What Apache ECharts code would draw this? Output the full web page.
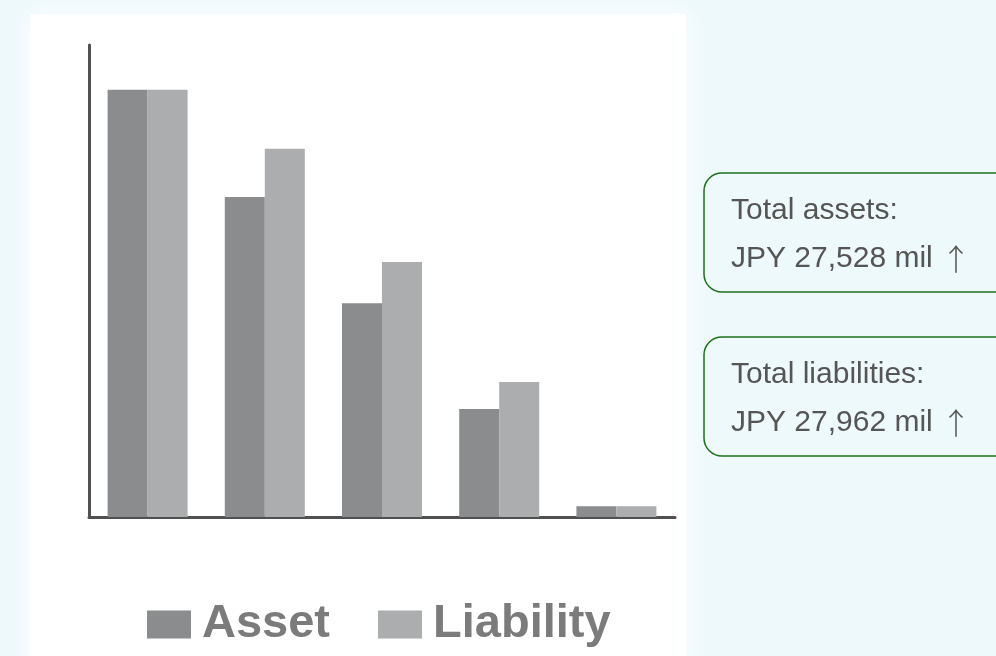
<!DOCTYPE html>
<html>
<head>
<meta charset="utf-8">
<script src="https://cdn.jsdelivr.net/npm/echarts@6/dist/echarts.min.js"></script>
<style>
  html, body { margin: 0; padding: 0; background: #eef9fc; }
  #chart { width: 996px; height: 656px; }
</style>
</head>
<body>
<div id="chart"></div>
<script>
// categories have no visible labels in the source picture
const categories = ['A', 'B', 'C', 'D', 'E']
const assetValues = [90.5, 67.8, 45.3, 22.9, 2.3]
const liabilityValues = [90.5, 78.0, 54.0, 28.6, 2.3]
const seriesNames = ['Asset', 'Liability']
const boxLines = [
  ['Total assets:', 'JPY 27,528 mil {arr|\u2191}'],
  ['Total liabilities:', 'JPY 27,962 mil {arr|\u2191}']
]

const chart = echarts.init(document.getElementById('chart'))

// summary boxes on the right
const boxTops = [173, 337]
let boxGraphics = []
boxLines.forEach((lines, i) => {
  let top = boxTops[i]
  boxGraphics.push({
    type: 'rect',
    shape: { x: 704, y: top, width: 310, height: 119, r: 18 },
    style: { fill: 'rgba(0,0,0,0)', stroke: '#1c701c', lineWidth: 1.5 },
    z: 10
  })
  lines.forEach((txt, j) => {
    boxGraphics.push({
      type: 'text',
      x: 731,
      y: top + 38 + j * 48,
      style: {
        text: txt,
        fill: '#555',
        font: '30px "Liberation Sans", Arial, sans-serif',
        textVerticalAlign: 'middle',
        rich: {
          arr: {
            fontFamily: '"Noto Sans CJK JP", sans-serif',
            fontSize: 30,
            fontWeight: 300,
            color: '#555'
          }
        }
      },
      z: 10
    })
  })
})

const option = {
  backgroundColor: '#eef9fc',
  animation: false,
  graphic: [
    {
      type: 'rect',
      shape: { x: 30, y: 14, width: 656, height: 660 },
      style: { fill: '#ffffff', shadowColor: '#ffffff', shadowBlur: 24 },
      z: -10,
      silent: true
    }
  ].concat(boxGraphics),
  legend: {
    data: seriesNames,
    left: 142,
    top: 596,
    itemWidth: 44,
    itemHeight: 28,
    itemGap: 48,
    icon: 'rect',
    textStyle: {
      fontFamily: '"Liberation Sans", Arial, sans-serif',
      fontSize: 47,
      fontWeight: 'bold',
      color: '#7b7b7b',
      padding: [0, 0, 0, 6]
    }
  },
  grid: {
    left: 89,
    right: 321,
    top: 45,
    bottom: 139
  },
  xAxis: {
    type: 'category',
    data: categories,
    axisLine: { lineStyle: { color: '#505050', width: 3 } },
    axisTick: { show: false },
    axisLabel: { show: false }
  },
  yAxis: {
    type: 'value',
    min: 0,
    max: 100,
    axisLine: { show: true, lineStyle: { color: '#505050', width: 3 } },
    axisTick: { show: false },
    axisLabel: { show: false },
    splitLine: { show: false }
  },
  series: [
    {
      name: seriesNames[0],
      type: 'bar',
      data: assetValues,
      barWidth: 40,
      barGap: '0%',
      itemStyle: { color: '#8b8c8d' }
    },
    {
      name: seriesNames[1],
      type: 'bar',
      data: liabilityValues,
      barWidth: 40,
      itemStyle: { color: '#acadae' }
    }
  ]
}

chart.setOption(option)
</script>
</body>
</html>
